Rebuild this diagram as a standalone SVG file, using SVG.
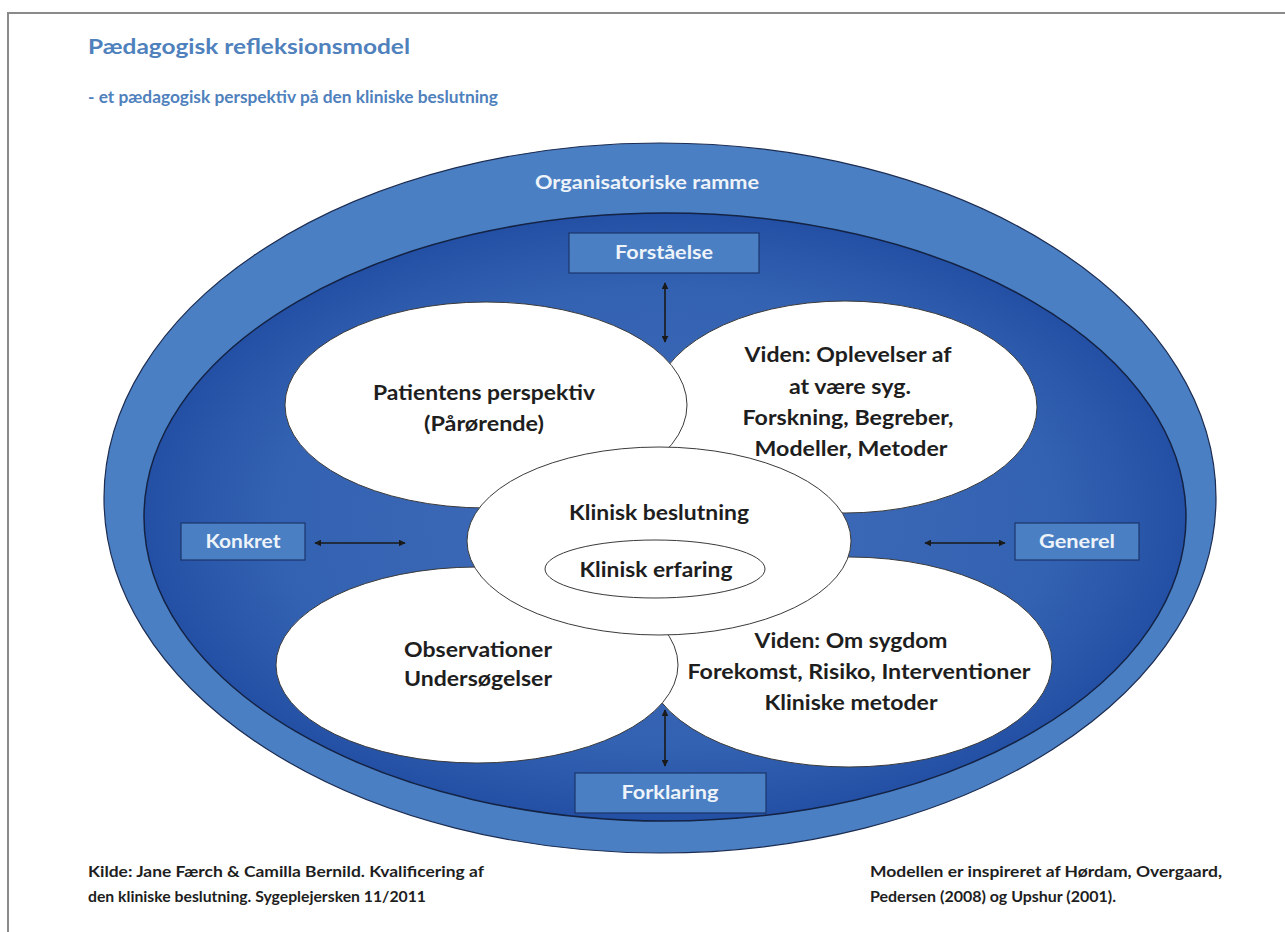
<svg xmlns="http://www.w3.org/2000/svg" width="1285" height="932" viewBox="0 0 1285 932">
<style>
.frame{fill:#ffffff;stroke:#8a8a8a;stroke-width:2}
.title{font-family:Lato,"Open Sans",sans-serif;font-weight:700;fill:#4f81bd}
.band{fill:#4a80c3;stroke:#1c2c52;stroke-width:1.2}
.inner{fill:url(#innerGrad);stroke:#142244;stroke-width:1.5}
.petal{fill:#ffffff;stroke:#3a3a3a;stroke-width:1}
.txt{font-family:Lato,"Open Sans",sans-serif;font-weight:700;font-size:20px;fill:#1e1e1e;text-anchor:middle}
.lbl{font-family:Lato,"Open Sans",sans-serif;font-weight:700;font-size:18px;fill:#eef3fa;text-anchor:middle}
.box{fill:#4a80c3;stroke:#1b356b;stroke-width:1.2}
.foot{font-family:Lato,"Open Sans",sans-serif;font-weight:700;font-size:16px;fill:#1e1e1e}
.arrow{stroke:#1a1a1a;stroke-width:1.6;fill:none;marker-start:url(#ah);marker-end:url(#ah)}
</style>
<defs>
<radialGradient id="innerGrad" cx="0.5" cy="0.5" r="0.5">
<stop offset="0" stop-color="#3f6dba"/>
<stop offset="0.75" stop-color="#3462b2"/>
<stop offset="1" stop-color="#2350a4"/>
</radialGradient>
<marker id="ah" viewBox="0 0 10 10" refX="9" refY="5" markerWidth="7" markerHeight="7" orient="auto-start-reverse" markerUnits="userSpaceOnUse">
<path d="M0,0 L10,5 L0,10 z" fill="#1a1a1a"/>
</marker>
</defs>
<rect class="frame" x="8" y="13" width="1290" height="940"/>
<g id="title">
<text class="title" x="88" y="54" font-size="21" textLength="322" lengthAdjust="spacingAndGlyphs">Pædagogisk refleksionsmodel</text>
<text class="title" x="88" y="103" font-size="17" textLength="410" lengthAdjust="spacingAndGlyphs">- et pædagogisk perspektiv på den kliniske beslutning</text>
</g>
<g id="organisatoriske-ramme">
<ellipse class="band" cx="660" cy="498" rx="556" ry="355"/>
<text class="lbl" x="647" y="189" textLength="224" lengthAdjust="spacingAndGlyphs">Organisatoriske ramme</text>
</g>
<g id="inner-area">
<ellipse class="inner" cx="665" cy="517" rx="521" ry="304"/>
</g>
<g id="viden-oplevelser">
<ellipse class="petal" cx="845" cy="407" rx="192" ry="106"/>
<text class="txt" x="848" y="362" textLength="207" lengthAdjust="spacingAndGlyphs">Viden: Oplevelser af</text>
<text class="txt" x="850" y="394" textLength="122" lengthAdjust="spacingAndGlyphs">at være syg.</text>
<text class="txt" x="848" y="425" textLength="211" lengthAdjust="spacingAndGlyphs">Forskning, Begreber,</text>
<text class="txt" x="851" y="456" textLength="193" lengthAdjust="spacingAndGlyphs">Modeller, Metoder</text>
</g>
<g id="viden-sygdom">
<ellipse class="petal" cx="849" cy="662" rx="203" ry="105"/>
<text class="txt" x="851" y="648" textLength="193" lengthAdjust="spacingAndGlyphs">Viden: Om sygdom</text>
<text class="txt" x="859" y="679" textLength="343" lengthAdjust="spacingAndGlyphs">Forekomst, Risiko, Interventioner</text>
<text class="txt" x="851" y="710" textLength="173" lengthAdjust="spacingAndGlyphs">Kliniske metoder</text>
</g>
<g id="patientens-perspektiv">
<ellipse class="petal" cx="486" cy="405" rx="201" ry="103"/>
<text class="txt" x="484" y="400" textLength="222" lengthAdjust="spacingAndGlyphs">Patientens perspektiv</text>
<text class="txt" x="484" y="431" textLength="120" lengthAdjust="spacingAndGlyphs">(Pårørende)</text>
</g>
<g id="observationer">
<ellipse class="petal" cx="477" cy="665" rx="201" ry="98"/>
<text class="txt" x="478" y="657" textLength="148" lengthAdjust="spacingAndGlyphs">Observationer</text>
<text class="txt" x="478" y="686" textLength="148" lengthAdjust="spacingAndGlyphs">Undersøgelser</text>
</g>
<g id="klinisk-beslutning">
<ellipse class="petal" cx="659" cy="541" rx="192" ry="94"/>
<text class="txt" x="659" y="520" textLength="180" lengthAdjust="spacingAndGlyphs">Klinisk beslutning</text>
</g>
<g id="klinisk-erfaring">
<ellipse class="petal" cx="655" cy="569" rx="110" ry="29"/>
<text class="txt" x="656" y="577" textLength="153" lengthAdjust="spacingAndGlyphs">Klinisk erfaring</text>
</g>
<g id="forstaaelse">
<rect class="box" x="569" y="233" width="190" height="40"/>
<text class="lbl" x="664" y="259" textLength="98" lengthAdjust="spacingAndGlyphs">Forståelse</text>
</g>
<g id="forklaring">
<rect class="box" x="575" y="773" width="191" height="40"/>
<text class="lbl" x="670" y="799" textLength="97" lengthAdjust="spacingAndGlyphs">Forklaring</text>
</g>
<g id="konkret">
<rect class="box" x="181" y="523" width="124" height="37"/>
<text class="lbl" x="243" y="548" textLength="75" lengthAdjust="spacingAndGlyphs">Konkret</text>
</g>
<g id="generel">
<rect class="box" x="1015" y="523" width="124" height="37"/>
<text class="lbl" x="1077" y="548" textLength="76" lengthAdjust="spacingAndGlyphs">Generel</text>
</g>
<g id="connectors">
<line class="arrow" x1="665" y1="283" x2="665" y2="342"/>
<line class="arrow" x1="665" y1="710" x2="665" y2="766"/>
<line class="arrow" x1="315" y1="543" x2="405" y2="543"/>
<line class="arrow" x1="925" y1="543" x2="1005" y2="543"/>
</g>
<g id="footer">
<text class="foot" x="88" y="877" textLength="396" lengthAdjust="spacingAndGlyphs">Kilde: Jane Færch &amp; Camilla Bernild. Kvalificering af</text>
<text class="foot" x="88" y="902" textLength="338" lengthAdjust="spacingAndGlyphs">den kliniske beslutning. Sygeplejersken 11/2011</text>
<text class="foot" x="870" y="877" textLength="352" lengthAdjust="spacingAndGlyphs">Modellen er inspireret af Hørdam, Overgaard,</text>
<text class="foot" x="870" y="902" textLength="246" lengthAdjust="spacingAndGlyphs">Pedersen (2008) og Upshur (2001).</text>
</g>
</svg>
